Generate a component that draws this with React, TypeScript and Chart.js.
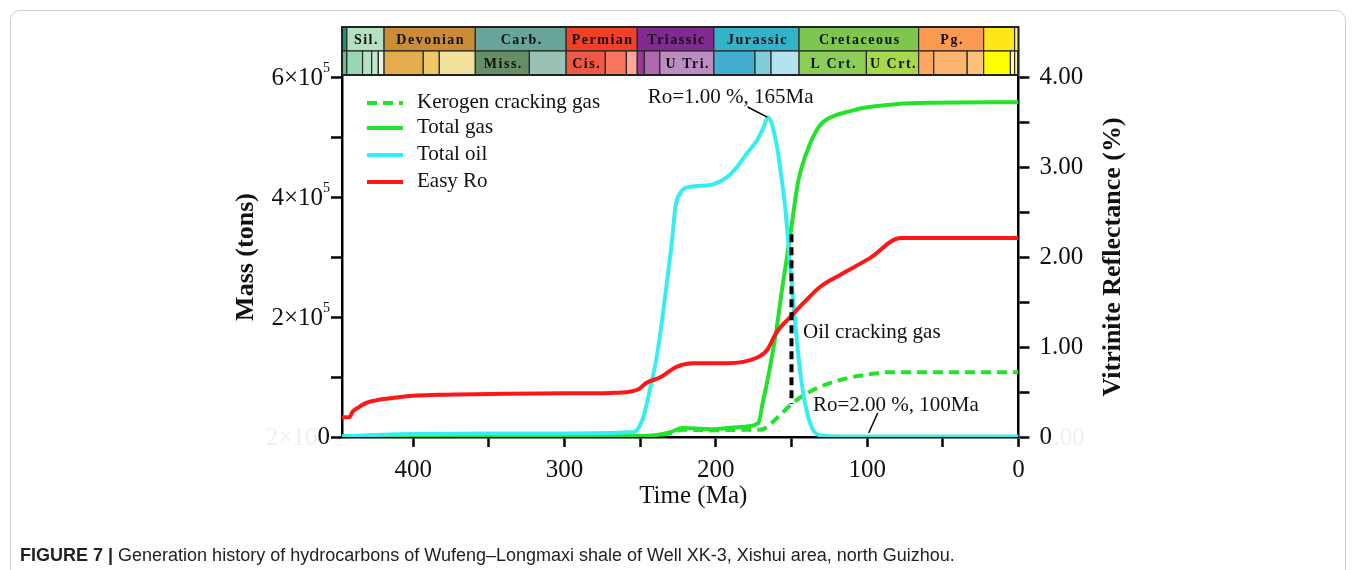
import React, { useEffect, useRef } from 'react';
import { Chart, registerables } from 'chart.js';

Chart.register(...registerables);

const SERIF = "'Liberation Serif', 'Times New Roman', Times, serif";
const SANS = "'Liberation Sans', Arial, Helvetica, sans-serif";

// ---- axes ----
const timeMax = 447; // Ma, left end of the plot
const massTickLabels = ['0', '', '2×10', '', '4×10', '', '6×10']; // each followed by a superscript exponent
const massTickExponent = '5';
const roTickLabels = ['0', '', '1.00', '', '2.00', '', '3.00', '', '4.00'];

// ---- series (time in Ma, mass in tons, Ro in %) ----
const roTime = [447, 442, 440, 436, 431, 424, 411, 398, 382, 340, 300, 270, 258, 251, 246, 237, 226, 215, 193, 173, 166, 160, 151, 142, 131, 118, 98, 78, 0];
const roValues = [0.22, 0.22, 0.28, 0.33, 0.38, 0.41, 0.44, 0.46, 0.47, 0.48, 0.485, 0.49, 0.5, 0.53, 0.6, 0.66, 0.78, 0.82, 0.82, 0.88, 0.97, 1.16, 1.33, 1.49, 1.67, 1.8, 1.99, 2.21, 2.21];

const oilTime = [447, 430, 400, 350, 300, 265, 258, 254.5, 247.9, 243.2, 238.6, 234.6, 231.3, 228.7, 226.7, 223.4, 216.8, 203.8, 192.6, 186, 179.4, 172.6, 168.6, 165.5, 159.5, 156.9, 154.3, 152.3, 150.3, 147.7, 144.4, 141.1, 135.8, 129.2, 120, 0];
const oilMass = [1000, 3000, 5000, 6000, 6000, 7000, 8000, 8000, 33000, 83000, 140000, 212000, 278000, 333000, 383000, 407000, 417000, 420000, 433000, 450000, 473000, 495000, 515000, 533000, 483000, 437000, 387000, 328000, 270000, 195000, 112000, 57000, 12000, 2000, 1000, 1000];

const gasTime = [447, 300, 250, 240, 230, 222, 204, 182, 172, 169, 164.5, 160, 156, 151, 148, 145.4, 138, 131, 122, 111, 104, 80, 60, 0];
const gasMass = [1000, 1500, 1500, 3000, 8000, 15000, 13000, 17000, 23000, 57000, 112000, 178000, 250000, 333000, 387000, 428000, 487000, 520000, 535000, 543000, 548000, 555000, 557000, 558000];

const kerTime = [447, 300, 250, 240, 230, 222, 204, 182, 172, 168, 159, 149, 136, 118, 100, 85, 0];
const kerMass = [1000, 1500, 1500, 2500, 6000, 12000, 11000, 12000, 12000, 14000, 33000, 57000, 78000, 95000, 104000, 108000, 108000];

// ---- annotations (data coordinates) ----
const annotTexts = ['Ro=1.00 %, 165Ma', 'Oil cracking gas', 'Ro=2.00 %, 100Ma'];
const annotTime = [245, 142.4, 135.8];
const annotMass = [566000, 175000, 53000];
const leaderTime = [[179, 166], [93, 99]];
const leaderMass = [[550000, 533000], [40000, 6700]];
const oilCrackTime = 150;
const oilCrackMass = [55000, 338000];

// ---- geologic time scale: [label, start Ma, end Ma, colour] ----
const periods: [string, number, number, string][] = [
  ['', 447, 443.8, '#1a9470'],
  ['Sil.', 443.8, 419.2, '#b3e1c2'],
  ['Devonian', 419.2, 358.9, '#cb8c37'],
  ['Carb.', 358.9, 298.9, '#67a599'],
  ['Permian', 298.9, 251.9, '#f04028'],
  ['Triassic', 251.9, 201.3, '#812b92'],
  ['Jurassic', 201.3, 145, '#34b2c9'],
  ['Cretaceous', 145, 66, '#7fc64e'],
  ['Pg.', 66, 23.03, '#fd9a52'],
  ['', 23.03, 2.58, '#ffe619'],
  ['', 2.58, 0, '#f9f97f'],
];
const epochs: [string, number, number, string][] = [
  ['', 447, 443.8, '#5cbf8c'],
  ['', 443.8, 433.4, '#99d7b3'],
  ['', 433.4, 427.4, '#b3e1c2'],
  ['', 427.4, 423, '#bfe6cf'],
  ['', 423, 419.2, '#e6f5e1'],
  ['', 419.2, 393.3, '#e5ac4d'],
  ['', 393.3, 382.7, '#f1c868'],
  ['', 382.7, 358.9, '#f1e19d'],
  ['Miss.', 358.9, 323.2, '#678f66'],
  ['', 323.2, 298.9, '#99c2b5'],
  ['Cis.', 298.9, 273, '#ef5845'],
  ['', 273, 259.1, '#fb745c'],
  ['', 259.1, 251.9, '#fba794'],
  ['', 251.9, 247.2, '#983999'],
  ['', 247.2, 237, '#b168b1'],
  ['U Tri.', 237, 201.3, '#bd8cc3'],
  ['', 201.3, 174.1, '#42aed0'],
  ['', 174.1, 163.5, '#80cfd8'],
  ['', 163.5, 145, '#b3e3ee'],
  ['L Crt.', 145, 100.5, '#8ccd57'],
  ['U Crt.', 100.5, 66, '#a6d84a'],
  ['', 66, 56, '#fda75f'],
  ['', 56, 33.9, '#fdb46c'],
  ['', 33.9, 23.03, '#fdc07a'],
  ['', 23.03, 5.33, '#ffff00'],
  ['', 5.33, 2.58, '#ffff99'],
  ['', 2.58, 0.5, '#fff2ae'],
  ['', 0.5, 0, '#fef2e0'],
];

const GREEN = '#22e22a';
const CYAN = '#35eef0';
const RED = '#ff1616';

const zip = (xs: number[], ys: number[]) => xs.map((x, i) => ({ x, y: ys[i] }));

const geoPlugin = {
  id: 'geoScale',
  afterDraw(chart: any) {
    const { ctx, chartArea } = chart;
    const xs = chart.scales.x;
    const top = chartArea.top - 50;
    const mid = chartArea.top - 26;
    const bot = chartArea.top - 2;
    const drawRow = (rows: [string, number, number, string][], y0: number, y1: number) => {
      rows.forEach(([label, s, e, col]) => {
        const xa = xs.getPixelForValue(s);
        const xb = xs.getPixelForValue(e);
        ctx.fillStyle = col;
        ctx.fillRect(xa, y0, xb - xa, y1 - y0);
        ctx.strokeStyle = '#2a2a2a';
        ctx.lineWidth = 1.2;
        ctx.strokeRect(xa, y0, xb - xa, y1 - y0);
        if (label) {
          ctx.fillStyle = '#111';
          ctx.font = `bold 14px ${SERIF}`;
          (ctx as any).letterSpacing = '1.5px';
          ctx.textAlign = 'center';
          ctx.textBaseline = 'middle';
          ctx.fillText(label, (xa + xb) / 2 + 1, (y0 + y1) / 2 + 1);
          (ctx as any).letterSpacing = '0px';
        }
      });
    };
    ctx.save();
    drawRow(periods, top, mid);
    drawRow(epochs, mid, bot);
    ctx.strokeStyle = '#222';
    ctx.lineWidth = 2;
    const xl = xs.getPixelForValue(timeMax);
    const xr = xs.getPixelForValue(0);
    ctx.strokeRect(xl, top, xr - xl, bot - top);
    ctx.restore();
  },
};

const annotPlugin = {
  id: 'annots',
  afterDatasetsDraw(chart: any) {
    const { ctx } = chart;
    const xs = chart.scales.x;
    const ys = chart.scales.y;
    ctx.save();
    ctx.strokeStyle = '#000';
    ctx.lineWidth = 4;
    ctx.setLineDash([8, 5]);
    ctx.beginPath();
    ctx.moveTo(xs.getPixelForValue(oilCrackTime), ys.getPixelForValue(oilCrackMass[1]));
    ctx.lineTo(xs.getPixelForValue(oilCrackTime), ys.getPixelForValue(oilCrackMass[0]));
    ctx.stroke();
    ctx.setLineDash([]);
    ctx.lineWidth = 1.5;
    leaderTime.forEach((lt, i) => {
      ctx.beginPath();
      ctx.moveTo(xs.getPixelForValue(lt[0]), ys.getPixelForValue(leaderMass[i][0]));
      ctx.lineTo(xs.getPixelForValue(lt[1]), ys.getPixelForValue(leaderMass[i][1]));
      ctx.stroke();
    });
    ctx.fillStyle = '#111';
    ctx.font = `21px ${SERIF}`;
    ctx.textAlign = 'left';
    ctx.textBaseline = 'middle';
    annotTexts.forEach((t, i) => {
      ctx.fillText(t, xs.getPixelForValue(annotTime[i]), ys.getPixelForValue(annotMass[i]));
    });
    ctx.restore();
  },
};

const legendPlugin = {
  id: 'customLegend',
  afterDraw(chart: any) {
    const { ctx, chartArea } = chart;
    ctx.save();
    const x0 = chartArea.left + 25;
    const x1 = chartArea.left + 61;
    const tx = chartArea.left + 75;
    const rows = [26, 51, 78, 105];
    chart.data.datasets.forEach((ds: any, i: number) => {
      const y = chartArea.top + rows[i];
      ctx.strokeStyle = ds.borderColor;
      ctx.lineWidth = 4;
      ctx.setLineDash(ds.borderDash || []);
      ctx.beginPath();
      ctx.moveTo(x0, y);
      ctx.lineTo(x1, y);
      ctx.stroke();
      ctx.setLineDash([]);
      ctx.fillStyle = '#111';
      ctx.font = `21px ${SERIF}`;
      ctx.textAlign = 'left';
      ctx.textBaseline = 'middle';
      ctx.fillText(ds.label, tx, y - 1);
    });
    ctx.restore();
  },
};

// left tick labels with a raised exponent, placed from the y scale's own ticks
const massLabelPlugin = {
  id: 'massLabels',
  afterDraw(chart: any) {
    const { ctx, chartArea } = chart;
    const ys = chart.scales.y;
    ctx.save();
    ctx.fillStyle = '#111';
    ctx.textBaseline = 'middle';
    ys.ticks.forEach((t: any) => {
      const label = massTickLabels[Math.round(t.value / 100000)];
      if (!label || t.value === 0) return;
      const y = ys.getPixelForValue(t.value);
      const xr = chartArea.left - 12;
      ctx.font = `14px ${SERIF}`;
      ctx.textAlign = 'right';
      ctx.fillText(massTickExponent, xr, y - 9);
      const w = ctx.measureText(massTickExponent).width;
      ctx.font = `25px ${SERIF}`;
      ctx.fillText(label, xr - w, y + 1);
    });
    ctx.restore();
  },
};

const titlesPlugin = {
  id: 'axisTitles',
  afterDraw(chart: any) {
    const { ctx, chartArea } = chart;
    const cy = (chartArea.top + chartArea.bottom) / 2;
    ctx.save();
    ctx.fillStyle = '#111';
    ctx.textAlign = 'center';
    ctx.textBaseline = 'middle';
    ctx.font = `bold 26px ${SERIF}`;
    ctx.save();
    ctx.translate(chartArea.left - 96, cy);
    ctx.rotate(-Math.PI / 2);
    ctx.fillText('Mass (tons)', 0, 0);
    ctx.restore();
    ctx.save();
    ctx.translate(chartArea.right + 95, cy);
    ctx.rotate(-Math.PI / 2);
    ctx.fillText('Vitrinite Reflectance (%)', 0, 0);
    ctx.restore();
    ctx.font = `25px ${SERIF}`;
    ctx.fillText('Time (Ma)', (chartArea.left + chartArea.right) / 2 + 13, chartArea.bottom + 59);
    ctx.fillStyle = '#efefef';
    ctx.textAlign = 'left';
    ctx.fillText('2×10', chartArea.left - 76, chartArea.bottom + 1);
    ctx.fillText('.00', chartArea.right + 35, chartArea.bottom + 1);
    ctx.restore();
  },
};

const axisGrid = {
  drawOnChartArea: false,
  drawTicks: true,
  tickLength: 11,
  tickWidth: 2.5,
  tickColor: '#000',
  color: '#000',
};
const axisBorder = { display: true, color: '#000', width: 2.5 };
const tickFont = { family: SERIF, size: 25 };

export default function App() {
  const ref = useRef<HTMLCanvasElement | null>(null);
  useEffect(() => {
    if (!ref.current) return;
    const chart = new Chart(ref.current, {
      type: 'line',
      data: {
        datasets: [
          { label: 'Kerogen cracking gas', data: zip(kerTime, kerMass), yAxisID: 'y', borderColor: GREEN, borderDash: [10, 6], borderWidth: 4, order: 3 },
          { label: 'Total gas', data: zip(gasTime, gasMass), yAxisID: 'y', borderColor: GREEN, borderWidth: 4, order: 2 },
          { label: 'Total oil', data: zip(oilTime, oilMass), yAxisID: 'y', borderColor: CYAN, borderWidth: 4, order: 1 },
          { label: 'Easy Ro', data: zip(roTime, roValues), yAxisID: 'y1', borderColor: RED, borderWidth: 4, order: 0 },
        ] as any,
      },
      options: {
        animation: false,
        responsive: false,
        maintainAspectRatio: false,
        elements: { point: { radius: 0 }, line: { cubicInterpolationMode: 'monotone', fill: false } },
        layout: { padding: { left: 212, right: 207.5, top: 77, bottom: 73 } },
        plugins: { legend: { display: false }, tooltip: { enabled: false } },
        scales: {
          x: {
            type: 'linear',
            reverse: true,
            min: 0,
            max: timeMax,
            afterFit: (s: any) => { s.height = 60; },
            ticks: {
              stepSize: 50,
              includeBounds: false,
              autoSkip: false,
              maxRotation: 0,
              color: '#111',
              font: tickFont,
              padding: 8,
              callback: (v: any) => (Number(v) % 100 === 0 ? String(v) : ''),
            },
            grid: { ...axisGrid, tickLength: 10 },
            border: axisBorder,
          },
          y: {
            type: 'linear',
            position: 'left',
            min: 0,
            max: 600000,
            afterFit: (s: any) => { s.width = 130; },
            ticks: {
              stepSize: 100000,
              color: '#111',
              font: tickFont,
              padding: 1,
              callback: (v: any) => (Number(v) === 0 ? massTickLabels[0] : ''),
            },
            grid: axisGrid,
            border: axisBorder,
          },
          y1: {
            type: 'linear',
            position: 'right',
            min: 0,
            max: 4,
            afterFit: (s: any) => { s.width = 130; },
            ticks: {
              stepSize: 0.5,
              color: '#111',
              font: tickFont,
              padding: 10,
              callback: (v: any) => roTickLabels[Math.round(Number(v) * 2)] ?? '',
            },
            grid: axisGrid,
            border: axisBorder,
          },
        },
      } as any,
      plugins: [geoPlugin, annotPlugin, legendPlugin, massLabelPlugin, titlesPlugin],
    });
    return () => chart.destroy();
  }, []);

  return (
    <div style={{ position: 'fixed', left: 0, top: 0, width: 1356, height: 570, background: '#fff', overflow: 'hidden' }}>
      <div style={{ position: 'absolute', left: 10, top: 10, width: 1334, height: 600, border: '1px solid #cfcfcf', borderRadius: 10 }} />
      <canvas ref={ref} width={1356} height={570} style={{ position: 'absolute', left: 0, top: 0, width: 1356, height: 570 }} />
      <div style={{ position: 'absolute', left: 20, top: 545, fontFamily: SANS, fontSize: 18, lineHeight: '20px', color: '#222', whiteSpace: 'nowrap' }}>
        <b>FIGURE 7 |</b> Generation history of hydrocarbons of Wufeng–Longmaxi shale of Well XK-3, Xishui area, north Guizhou.
      </div>
    </div>
  );
}
